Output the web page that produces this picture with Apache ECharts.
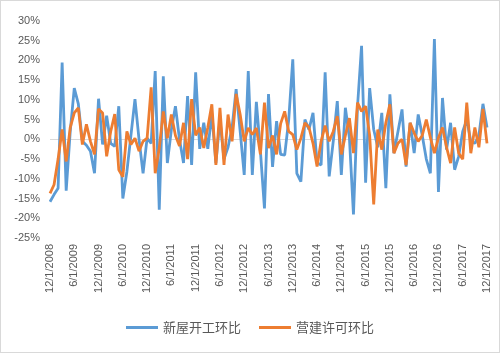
<!DOCTYPE html>
<html>
<head>
<meta charset="utf-8">
<script src="https://cdn.jsdelivr.net/npm/echarts@6/dist/echarts.min.js"></script>
<style>
  html, body { margin: 0; padding: 0; background: #fff; }
  #chart { width: 498px; height: 351px; border: 1px solid #d9d9d9; }
</style>
</head>
<body>
<div id="chart"></div>
<script>
// 月度日期 12/1/2008 - 12/1/2017
const months = [];
for (let i = 0; i <= 108; i++) {
  const m = (11 + i) % 12 + 1;
  const y = 2008 + Math.floor((11 + i) / 12);
  months.push(m + '/1/' + y);
}

const seriesNames = ['新屋开工环比', '营建许可环比'];

// 新屋开工环比 (%)
const housingStarts = [
  -15.8, -14, -12.4, 19.5, -13, 2, 13, 9, -0.5, -1.5, -3, -8.6,
  10.3, -1.3, 6, -1, -1.8, 8.4, -15, -8.2, 1, 10.2, 0, -8.6,
  0.3, -1, 17.3, -17.8, 16, -6, 2.5, 8.4, 0, -6, 11, -6.5,
  17, -2.4, 4.2, -2.4, 6.5, -6, 5, -5, -2, 3, 12.7, 2,
  -9, 17.3, -9, 9.5, -3, -17.5, 11.5, -7, 4.6, -3.8, -4, 5,
  20.3, -8.6, -10.7, 5, 2.5, 6.7, -6, -6.5, 17, -9.4, -0.5, 9.7,
  -9, 8, 0.3, -19, 8.4, 23.7, -11, 13, 2.5, -2, 6.7, -12.4,
  11.4, -3.5, 2, 7.6, -6.9, 4.2, -3.5, 6.3, 1, -5, -8.6, 25.4,
  -13.3, 10.5, -2.6, 4.2, -7.7, -4.3, 2, 5, -0.5, -1, 1, 9, 3
];

// 营建许可环比 (%)
const buildingPermits = [
  -13.7, -11.5, -5, 2.5, -5.6, 3, 6.7, 8, -1.3, 3.8, -0.5, -3.8,
  7.7, 6.7, -4.3, 2, 6.4, -7.7, -9.5, 2, -1.3, 0.3, -3, -0.5,
  0.3, 13.2, -8.6, -2.2, 7.1, 0.3, 6.3, 1, -1.7, 4.2, -5, 10.2,
  1, 3, -2.2, 3, 8.9, -6.5, 8, -6.5, 6.3, -0.5, 11.5, 6.3,
  -0.5, 2.9, 1.2, 2.9, -3.8, 9.3, -2.2, 1, -3.8, 4, 7.1, 2,
  1.2, -2.6, 0.3, 4.2, 3, -1, -6.9, -0.5, 3.5, -0.5, 2, 5.9,
  -3.8, 1, 5.4, -3.5, 9.3, 7.1, 8.4, 1, -16.5, 2.5, -2.6, 4.2,
  8.9, -3.5, -1, 0, -6.5, 4.2, 1.6, -0.5, 1, 5, 0.5, -3.5,
  0.4, 3, -2, -6, 3, -3.5, -5, 9.3, -3.5, 3, -2, 7.7, -1
];

const colors = ['#5B9BD5', '#ED7D31'];

const chart = echarts.init(document.getElementById('chart'));
chart.setOption({
  animation: false,
  color: colors,
  textStyle: { fontFamily: 'Liberation Sans, sans-serif', color: '#595959' },
  grid: { left: 49, right: 12, top: 20, bottom: 114 },
  legend: {
    data: seriesNames,
    top: 315,
    left: 'center',
    icon: 'rect',
    itemWidth: 32,
    itemHeight: 3,
    itemGap: 18,
    textStyle: { fontFamily: 'Noto Sans CJK SC', fontSize: 13, color: '#595959' }
  },
  xAxis: {
    type: 'category',
    data: months,
    boundaryGap: false,
    axisLine: { show: false, onZero: false },
    axisTick: { show: false },
    axisLabel: {
      interval: 5,
      rotate: 90,
      fontSize: 11,
      color: '#595959',
      margin: 6
    }
  },
  yAxis: {
    type: 'value',
    min: -25,
    max: 30,
    interval: 5,
    axisLine: { show: false },
    axisTick: { show: false },
    splitLine: { show: false },
    axisLabel: { formatter: '{value}%', fontSize: 11, color: '#595959', margin: 10 }
  },
  series: [
    {
      name: seriesNames[0],
      type: 'line',
      data: housingStarts,
      showSymbol: false,
      lineStyle: { width: 2.8 },
      z: 2,
      markLine: {
        silent: true,
        symbol: 'none',
        label: { show: false },
        lineStyle: { color: '#d9d9d9', width: 1, type: 'solid' },
        data: [{ yAxis: 0 }],
        z: 1
      }
    },
    {
      name: seriesNames[1],
      type: 'line',
      data: buildingPermits,
      showSymbol: false,
      lineStyle: { width: 2.8 },
      z: 3
    }
  ]
});
</script>
</body>
</html>
